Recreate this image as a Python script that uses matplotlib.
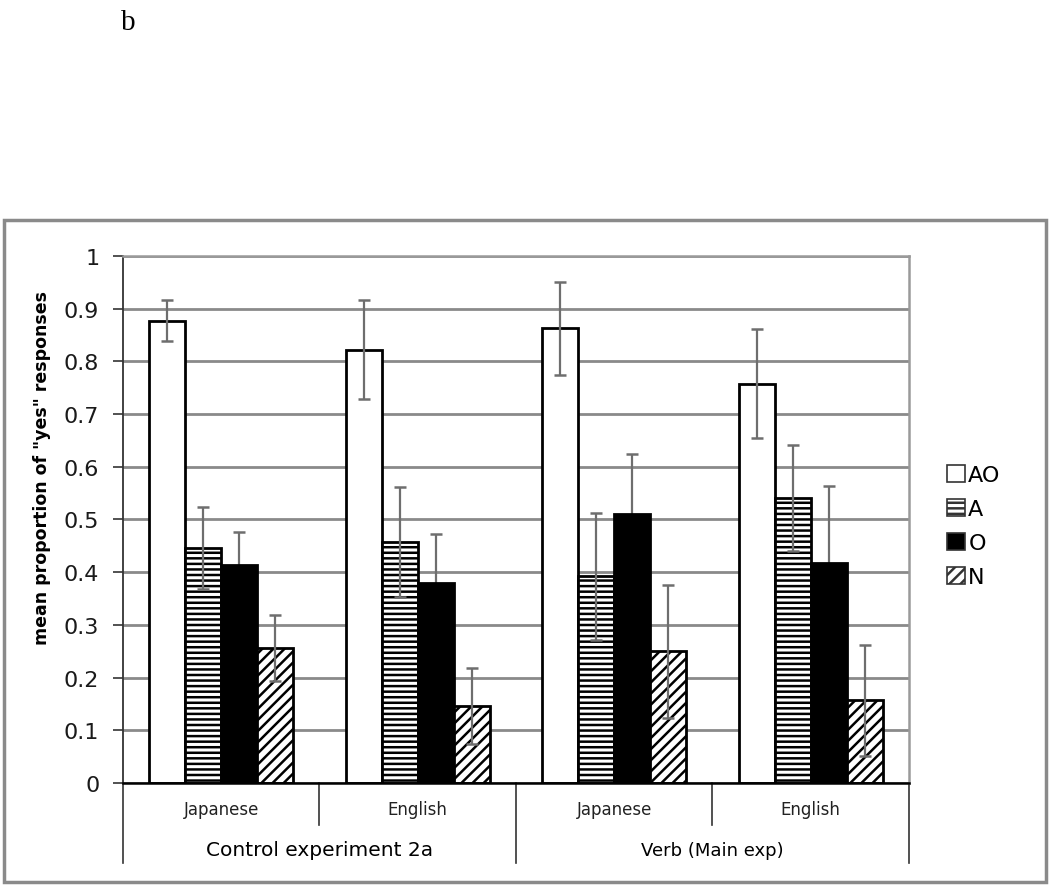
import numpy as np
import matplotlib.pyplot as plt
from matplotlib.patches import Patch, Rectangle
from matplotlib.transforms import blended_transform_factory

plt.rcParams['font.family'] = ['DejaVu Sans']
plt.rcParams['hatch.linewidth'] = 1.8

# data
languages = ['Japanese', 'English', 'Japanese', 'English']
experiments = ['Control experiment 2a', 'Verb (Main exp)']
conditions = ['AO', 'A', 'O', 'N']

ao_mean = [0.877, 0.822, 0.863, 0.758]
a_mean = [0.446, 0.457, 0.392, 0.541]
o_mean = [0.414, 0.380, 0.510, 0.417]
n_mean = [0.256, 0.146, 0.250, 0.157]

ao_err = [0.039, 0.094, 0.088, 0.103]
a_err = [0.078, 0.104, 0.120, 0.100]
o_err = [0.062, 0.092, 0.114, 0.146]
n_err = [0.063, 0.072, 0.126, 0.105]

means = [ao_mean, a_mean, o_mean, n_mean]
errs = [ao_err, a_err, o_err, n_err]
faces = ['white', 'white', 'black', 'white']
hatches = [None, '---', None, '///']

fig = plt.figure(figsize=(10.5, 8.87), dpi=100)
ax = fig.add_axes([0.1171, 0.1161, 0.7486, 0.5942])

x = np.arange(len(languages))
w = 0.183
for i in range(4):
    xs = x + (i - 1.5) * w
    ax.bar(xs, means[i], w, color=faces[i], edgecolor='black',
           hatch=hatches[i], linewidth=2.0, zorder=2)
    # the O bar is solid black, so its lower whisker is hidden behind it
    ez = 1.5 if conditions[i] == 'O' else 3
    ax.errorbar(xs, means[i], yerr=errs[i], fmt='none', ecolor='#6e6e6e',
                elinewidth=1.6, capsize=4.5, capthick=1.8, zorder=ez)

ax.set_xlim(-0.5, 3.5)
ax.set_ylim(0, 1)
ax.set_yticks(np.arange(0, 1.01, 0.1))
ax.set_yticklabels(['0', '0.1', '0.2', '0.3', '0.4', '0.5', '0.6', '0.7',
                    '0.8', '0.9', '1'], fontsize=16, color='#1a1a1a')
ax.tick_params(axis='y', length=7, width=1.2, pad=10, color='#333333')
ax.set_xticks([])
ax.set_axisbelow(True)
ax.yaxis.grid(True, color='#8a8a8a', linewidth=2.0, zorder=0)
for s in ['top', 'right']:
    ax.spines[s].set_color('#9a9a9a')
    ax.spines[s].set_linewidth(1.8)
ax.spines['left'].set_color('#333333')
ax.spines['left'].set_linewidth(1.3)
ax.spines['bottom'].set_color('black')
ax.spines['bottom'].set_linewidth(1.8)
ax.set_ylabel('mean proportion of "yes" responses', fontsize=12.5,
              fontweight='bold')
ax.yaxis.set_label_coords(-0.092, 0.60)

# two-level category axis
tr = blended_transform_factory(ax.transData, ax.transAxes)
for b in [-0.5, 1.5, 3.5]:
    ax.plot([b, b], [0, -0.152], color='#333333', lw=1.2,
            transform=tr, clip_on=False)
for b in [0.5, 2.5]:
    ax.plot([b, b], [0, -0.08], color='#333333', lw=1.2,
            transform=tr, clip_on=False)
for xi, lab in zip(x, languages):
    ax.text(xi, -0.049, lab, transform=tr, ha='center', va='center',
            fontsize=12, color='#222222')
ax.text(0.5, -0.127, experiments[0], transform=tr, ha='center',
        va='center', fontsize=14.5)
ax.text(2.5, -0.127, experiments[1], transform=tr, ha='center',
        va='center', fontsize=13)

handles = [Patch(facecolor=faces[i], edgecolor='#333333', hatch=hatches[i],
                 linewidth=1.2) for i in range(4)]
fig.legend(handles, conditions, loc='center left',
           bbox_to_anchor=(0.883, 0.406), frameon=False, fontsize=16,
           handlelength=0.8, handleheight=0.8, handletextpad=0.15,
           labelspacing=0.62)

# outer frame of the chart
fig.patches.append(Rectangle((0.004, 0.005), 0.992, 0.746,
                             transform=fig.transFigure, fill=False,
                             edgecolor='#8a8a8a', linewidth=2.5))

fig.text(0.122, 0.974, 'b', fontsize=21, family='Liberation Serif',
         va='center', ha='center')

fig.savefig('out.png', dpi=100)
